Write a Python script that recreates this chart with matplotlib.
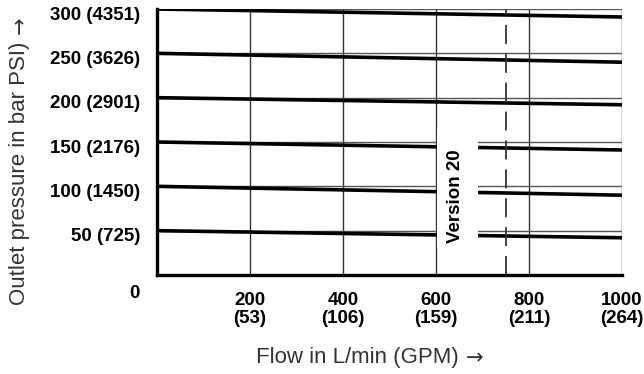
import matplotlib
matplotlib.use('Agg')
import matplotlib.pyplot as plt
import matplotlib.transforms as mtransforms

plt.rcParams['font.family'] = ['Liberation Sans', 'DejaVu Sans']

# pressure curves: value at 0 L/min and at 1000 L/min (bar)
flow_ends = [0, 1000]
p_start = [300, 250, 200, 150, 100, 50]
p_end = [291, 240, 192, 141, 90, 42]

y_ticks = [0, 50, 100, 150, 200, 250, 300]
y_labels = ['0', '50 (725)', '100 (1450)', '150 (2176)', '200 (2901)',
            '250 (3626)', '300 (4351)']
x_ticks = [200, 400, 600, 800, 1000]
x_labels = ['200\n(53)', '400\n(106)', '600\n(159)', '800\n(211)', '1000\n(264)']

version_flow = 750
gap_flow = (603, 690)   # blank band behind the "Version 20" label

fig = plt.figure(figsize=(6.44, 3.74), dpi=100)
ax = fig.add_axes([157 / 644, 99 / 374, 465 / 644, 266 / 374])

ax.set_xlim(0, 1000)
ax.set_ylim(0, 300)

# grid
for x in x_ticks:
    ax.axvline(x, color='#333333', lw=1.0, zorder=1)
for y in y_ticks[1:]:
    ax.axhline(y, color='#555555', lw=1.0, zorder=1)

# pressure lines
for a, b in zip(p_start, p_end):
    ax.plot(flow_ends, [a, b], color='black', lw=2.6, solid_capstyle='butt', zorder=2)

ax.axvspan(gap_flow[0], gap_flow[1], ymin=30 / 300, ymax=165 / 300,
           color='white', lw=0, zorder=2.5)

ax.axvline(version_flow, color='#333333', lw=1.3, zorder=3,
           linestyle=(0, (10.5, 5.5)))

ax.text((gap_flow[0] + gap_flow[1]) / 2 - 5, 89, 'Version 20', rotation=90,
        ha='center', va='center', fontsize=13.5, fontweight='bold', zorder=4)

# axes frame
for s in ['top', 'right']:
    ax.spines[s].set_visible(False)
ax.spines['left'].set_linewidth(2.4)
ax.spines['bottom'].set_linewidth(2.4)
ax.spines['left'].set_zorder(5)
ax.spines['bottom'].set_zorder(5)

ax.set_yticks([])
ax.set_xticks(x_ticks)
ax.set_xticklabels(x_labels, fontsize=13.5, fontweight='bold', linespacing=1.1)
ax.tick_params(axis='x', length=0, pad=12)

# y labels sit a little below their level
trans = mtransforms.blended_transform_factory(ax.transAxes, ax.transData)
for y, lab in zip(y_ticks, y_labels):
    dy = -19 if y == 0 else -6
    t = mtransforms.offset_copy(trans, fig=fig, x=-17, y=dy, units='dots')
    ax.text(0, y, lab, transform=t, ha='right', va='center',
            fontsize=13.5, fontweight='bold')

# axis titles, with the long DejaVu arrow tacked on the end
ylab = fig.text(20 / 644, 1 - 173 / 374, 'Outlet pressure in bar PSI)', rotation=90,
                ha='center', va='center', fontsize=16, color='#333333')
ax.annotate('\u2192', xy=(0.5, 1), xycoords=ylab, xytext=(0, 5),
            textcoords='offset points', rotation=90, ha='center', va='bottom',
            fontsize=15, color='#333333', family='DejaVu Sans',
            annotation_clip=False)

xlab = fig.text(357 / 644, 1 - 358 / 374, 'Flow in L/min (GPM)',
                ha='center', va='center', fontsize=16, color='#333333')
ax.annotate('\u2192', xy=(1, 0.5), xycoords=xlab, xytext=(5, 0),
            textcoords='offset points', ha='left', va='center',
            fontsize=15, color='#333333', family='DejaVu Sans',
            annotation_clip=False)

fig.savefig('out.png', dpi=100)
